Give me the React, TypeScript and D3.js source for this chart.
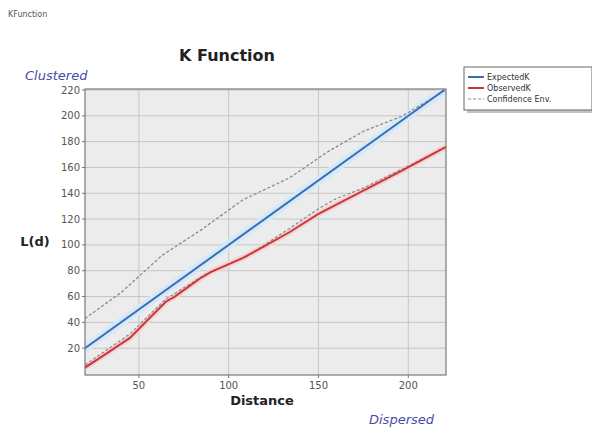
import React from "react";
import * as d3 from "d3";

const expectedX = [20, 220];
const expectedY = [20, 220];

const observedX = [20, 30, 45, 55, 65, 70, 84, 90, 108, 120, 134, 150, 175, 197, 221];
const observedY = [5, 14, 28, 42, 56, 60, 74, 79, 90, 99, 110, 124, 142, 158, 176];

const upperX = [20, 40, 63, 85, 108, 134, 155, 175, 197, 221];
const upperY = [43, 63, 92, 112, 135, 152, 172, 188, 200, 220];

const lowerX = [20, 45, 65, 88, 110, 132, 150, 160, 175, 200, 221];
const lowerY = [7, 31, 58, 78, 91, 111, 128, 136, 144, 161, 176];

const xTicks = [50, 100, 150, 200];
const yTicks = [20, 40, 60, 80, 100, 120, 140, 160, 180, 200, 220];

const legendLabels = ["ExpectedK", "ObservedK", "Confidence Env."];

const W = 592, H = 434;
const plot = { left: 85, right: 446, top: 89, bottom: 375 };

export default function App() {
  const x = d3.scaleLinear().domain([20, 221]).range([plot.left, plot.right]);
  const y = d3.scaleLinear().domain([0, 220]).range([374, 90]);
  const line = d3
    .line<[number, number]>()
    .x((d) => x(d[0]))
    .y((d) => y(d[1]));
  const zip = (a: number[], b: number[]) => a.map((v, i) => [v, b[i]] as [number, number]);
  const font = "DejaVu Sans, Verdana, sans-serif";

  const exp = line(zip(expectedX, expectedY)) || "";
  const obs = line(zip(observedX, observedY)) || "";
  const up = line(zip(upperX, upperY)) || "";
  const lo = line(zip(lowerX, lowerY)) || "";

  return (
    <svg width={W} height={H} style={{ position: "absolute", left: 0, top: 0, background: "#fff" }} fontFamily={font}>
      <rect x={0} y={0} width={W} height={H} fill="#fff" />
      <text x={8} y={17} fontSize={8} fill="#555">KFunction</text>
      <text x={227} y={61} fontSize={16} fontWeight="bold" textAnchor="middle" fill="#222">K Function</text>
      <text x={25} y={80} fontSize={13} fontStyle="italic" fill="#4a4aa8">Clustered</text>
      <text x={369} y={424} fontSize={13} fontStyle="italic" fill="#4a4aa8">Dispersed</text>

      <rect x={plot.left} y={plot.top} width={plot.right - plot.left} height={plot.bottom - plot.top} fill="#ececec" />
      {yTicks.map((t) => (
        <line key={"gy" + t} x1={plot.left} x2={plot.right} y1={y(t)} y2={y(t)} stroke="#c6c6c6" strokeWidth={1} />
      ))}
      {xTicks.map((t) => (
        <line key={"gx" + t} x1={x(t)} x2={x(t)} y1={plot.top} y2={plot.bottom} stroke="#c6c6c6" strokeWidth={1} />
      ))}
      <clipPath id="clip">
        <rect x={plot.left} y={plot.top} width={plot.right - plot.left} height={plot.bottom - plot.top} />
      </clipPath>
      <g clipPath="url(#clip)" fill="none">
        <path d={exp} stroke="#d6e9f8" strokeWidth={9} />
        <path d={obs} stroke="#f3d3d3" strokeWidth={6} />
        <path d={lo} stroke="#8a8a8a" strokeWidth={1.2} strokeDasharray="3,2" />
        <path d={up} stroke="#8a8a8a" strokeWidth={1.3} strokeDasharray="3,2" />
        <path d={exp} stroke="#3b6fb3" strokeWidth={2} />
        <path d={obs} stroke="#c8383c" strokeWidth={2} />
      </g>
      <rect x={plot.left} y={plot.top} width={plot.right - plot.left} height={plot.bottom - plot.top} fill="none" stroke="#7a7a7a" strokeWidth={1.2} />
      {yTicks.map((t) => (
        <g key={"ty" + t}>
          <line x1={plot.left - 3} x2={plot.left} y1={y(t)} y2={y(t)} stroke="#777" />
          <text x={plot.left - 5} y={y(t) + 3.5} fontSize={10} textAnchor="end" fill="#555">{t}</text>
        </g>
      ))}
      {xTicks.map((t) => (
        <g key={"tx" + t}>
          <line x1={x(t)} x2={x(t)} y1={plot.bottom} y2={plot.bottom + 3} stroke="#777" />
          <text x={x(t)} y={plot.bottom + 14} fontSize={10} textAnchor="middle" fill="#555">{t}</text>
        </g>
      ))}
      <text x={262} y={405} fontSize={13} fontWeight="bold" textAnchor="middle" fill="#222">Distance</text>
      <text x={35} y={246} fontSize={13} fontWeight="bold" textAnchor="middle" fill="#222">L(d)</text>

      <rect x={467} y={70} width={128} height={43} fill="#888" opacity={0.5} />
      <rect x={464} y={67} width={128} height={43} fill="#fff" stroke="#666" strokeWidth={1} />
      {legendLabels.map((lab, i) => {
        const ly = 77 + i * 11;
        const color = i === 0 ? "#3b6fb3" : i === 1 ? "#c8383c" : "#8a8a8a";
        return (
          <g key={lab}>
            <line x1={468} x2={484} y1={ly} y2={ly} stroke={color} strokeWidth={i === 2 ? 1.2 : 2} strokeDasharray={i === 2 ? "3,2" : undefined} />
            <text x={487} y={ly + 3} fontSize={8} fill="#333">{lab}</text>
          </g>
        );
      })}
    </svg>
  );
}
